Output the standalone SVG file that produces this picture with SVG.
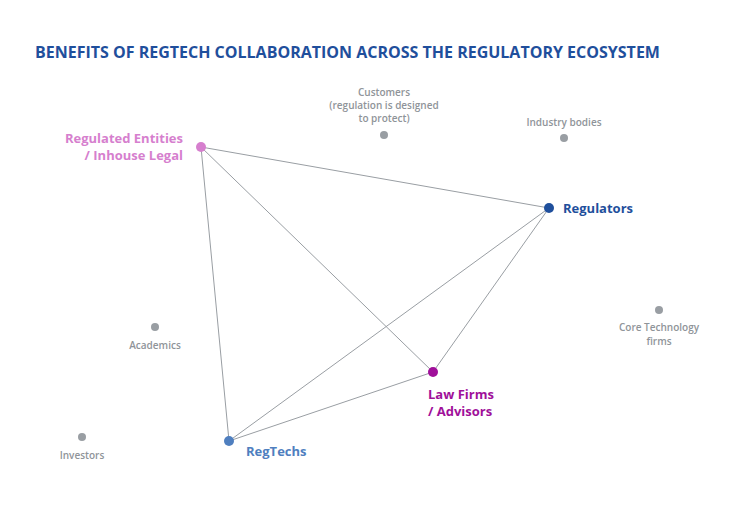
<svg xmlns="http://www.w3.org/2000/svg" width="740" height="508" viewBox="0 0 740 508">
<style>
text{font-family:"Open Sans","Liberation Sans",sans-serif}
.g{fill:#8f9499;font-size:10px;font-weight:600}
.gd{fill:#999ea3}
.b{font-weight:bold;font-size:13px}
.c line{stroke:#999ea3;stroke-width:1}
</style>
<rect width="740" height="508" fill="#fff"/>
<text x="35" y="58" font-size="16" font-weight="bold" fill="#1f4f9c">BENEFITS OF REGTECH COLLABORATION ACROSS THE REGULATORY ECOSYSTEM</text>
<g class="c">
<line x1="201" y1="147" x2="549" y2="208"/>
<line x1="201" y1="147" x2="433" y2="372"/>
<line x1="201" y1="147" x2="229" y2="441"/>
<line x1="549" y1="208" x2="433" y2="372"/>
<line x1="549" y1="208" x2="229" y2="441"/>
<line x1="433" y1="372" x2="229" y2="441"/>
</g>
<g id="regulated"><circle cx="201" cy="147" r="5" fill="#d67fce"/><text class="b" fill="#d67fce" text-anchor="end" x="183" y="143">Regulated Entities</text><text class="b" fill="#d67fce" text-anchor="end" x="183" y="160">/ Inhouse Legal</text></g>
<g id="regulators"><circle cx="549" cy="208" r="5" fill="#1f4f9c"/><text class="b" fill="#1f4f9c" x="563" y="213">Regulators</text></g>
<g id="lawfirms"><circle cx="433" cy="372" r="5" fill="#a0109a"/><text class="b" fill="#a0109a" x="428" y="399">Law Firms</text><text class="b" fill="#a0109a" x="428" y="416">/ Advisors</text></g>
<g id="regtechs"><circle cx="229" cy="441" r="5" fill="#4f7fbf"/><text class="b" fill="#4f7fbf" x="246" y="456">RegTechs</text></g>
<g id="customers"><circle cx="384" cy="135" r="4" class="gd"/><text class="g" text-anchor="middle" x="384" y="96">Customers</text><text class="g" text-anchor="middle" x="384" y="109">(regulation is designed</text><text class="g" text-anchor="middle" x="384" y="122">to protect)</text></g>
<g id="industry"><circle cx="564" cy="138" r="4" class="gd"/><text class="g" text-anchor="middle" x="564" y="126">Industry bodies</text></g>
<g id="coretech"><circle cx="659" cy="310" r="4" class="gd"/><text class="g" text-anchor="middle" x="659" y="331">Core Technology</text><text class="g" text-anchor="middle" x="659" y="345">firms</text></g>
<g id="academics"><circle cx="155" cy="327" r="4" class="gd"/><text class="g" text-anchor="middle" x="155" y="349">Academics</text></g>
<g id="investors"><circle cx="82" cy="437" r="4" class="gd"/><text class="g" text-anchor="middle" x="82" y="459">Investors</text></g>
</svg>
